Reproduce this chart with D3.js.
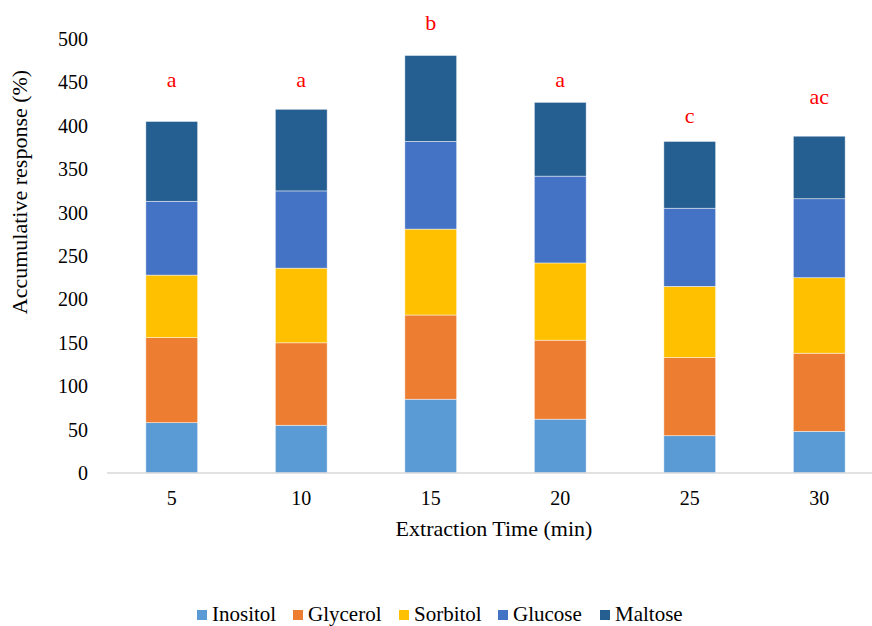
<!DOCTYPE html>
<html>
<head>
<meta charset="utf-8">
<script src="https://cdn.jsdelivr.net/npm/d3@7"></script>
<style>
  body { margin: 0; background: #fff; overflow: hidden; }
  svg { display: block; }
</style>
</head>
<body>
<div id="chart"></div>
<script>
// categories (extraction time, min)
var times = ["5", "10", "15", "20", "25", "30"];
var seriesNames = ["Inositol", "Glycerol", "Sorbitol", "Glucose", "Maltose"];
var seriesColors = ["#5B9BD5", "#ED7D31", "#FFC000", "#4472C4", "#255E91"];

// series values (%)
var inositol = [58, 55, 85, 62, 43, 48];
var glycerol = [98, 95, 97, 91, 90, 90];
var sorbitol = [72, 86, 99, 89, 82, 87];
var glucose  = [85, 89, 101, 100, 90, 91];
var maltose  = [92, 94, 99, 85, 77, 72];

// significance letters and their height (in axis units)
var letters = ["a", "a", "b", "a", "c", "ac"];
var letterPos = [445, 445, 510, 445, 403, 425];

var yTicks = [0, 50, 100, 150, 200, 250, 300, 350, 400, 450, 500];

var width = 872, height = 626;
var margin = { left: 107, right: -12, top: 39, bottom: 153 };
var serif = "Liberation Serif";

var svg = d3.select("#chart").append("svg")
  .attr("width", width)
  .attr("height", height)
  .attr("font-family", serif);

var x = d3.scaleBand()
  .domain(times)
  .range([margin.left, width - margin.right])
  .paddingInner(0.6)
  .paddingOuter(0.3);

var y = d3.scaleLinear()
  .domain([0, 500])
  .range([height - margin.bottom, margin.top]);

// build table for stacking
var allSeries = [inositol, glycerol, sorbitol, glucose, maltose];
var table = times.map(function (t, i) {
  var row = { time: t };
  seriesNames.forEach(function (s, j) { row[s] = allSeries[j][i]; });
  return row;
});
var stacked = d3.stack().keys(seriesNames)(table);

// bars
svg.selectAll(".layer")
  .data(stacked)
  .enter().append("g")
  .attr("class", "layer")
  .attr("fill", function (d, i) { return seriesColors[i]; })
  .selectAll("rect")
  .data(function (d) { return d; })
  .enter().append("rect")
  .attr("x", function (d) { return x(d.data.time); })
  .attr("width", x.bandwidth())
  .attr("y", function (d) { return y(d[1]); })
  .attr("height", function (d) { return y(d[0]) - y(d[1]); })
  .attr("stroke", "#ffffff")
  .attr("stroke-opacity", 0.6)
  .attr("stroke-width", 0.75);

// x axis line
svg.append("line")
  .attr("x1", margin.left).attr("x2", width)
  .attr("y1", y(0)).attr("y2", y(0))
  .attr("stroke", "#d9d9d9")
  .attr("stroke-width", 1.5);

// y tick labels
svg.selectAll(".ytick")
  .data(yTicks)
  .enter().append("text")
  .attr("class", "ytick")
  .attr("x", 88)
  .attr("y", function (d) { return y(d); })
  .attr("dy", "0.35em")
  .attr("text-anchor", "end")
  .attr("font-size", 20)
  .attr("fill", "#000")
  .text(function (d) { return d; });

// x tick labels
svg.selectAll(".xtick")
  .data(times)
  .enter().append("text")
  .attr("class", "xtick")
  .attr("x", function (d) { return x(d) + x.bandwidth() / 2; })
  .attr("y", y(0) + 32)
  .attr("text-anchor", "middle")
  .attr("font-size", 20)
  .attr("fill", "#000")
  .text(function (d) { return d; });

// significance letters
svg.selectAll(".letter")
  .data(letters)
  .enter().append("text")
  .attr("class", "letter")
  .attr("x", function (d, i) { return x(times[i]) + x.bandwidth() / 2; })
  .attr("y", function (d, i) { return y(letterPos[i]); })
  .attr("text-anchor", "middle")
  .attr("font-size", 22)
  .attr("fill", "#ff0000")
  .text(function (d) { return d; });

// axis titles
svg.append("text")
  .attr("x", 494)
  .attr("y", 536)
  .attr("text-anchor", "middle")
  .attr("font-size", 22)
  .attr("fill", "#000")
  .text("Extraction Time (min)");

svg.append("text")
  .attr("transform", "translate(27,192) rotate(-90)")
  .attr("text-anchor", "middle")
  .attr("font-size", 22)
  .attr("fill", "#000")
  .text("Accumulative response (%)");

// legend
var legendTextX = [212, 308, 414, 513, 615];
var legend = svg.selectAll(".legend")
  .data(seriesNames)
  .enter().append("g")
  .attr("class", "legend")
  .attr("transform", function (d, i) { return "translate(" + legendTextX[i] + ",615)"; });

legend.append("rect")
  .attr("x", -15).attr("y", -5)
  .attr("width", 10).attr("height", 10)
  .attr("fill", function (d, i) { return seriesColors[i]; });

legend.append("text")
  .attr("x", 0)
  .attr("y", 6)
  .attr("font-size", 21)
  .attr("fill", "#000")
  .text(function (d) { return d; });
</script>
</body>
</html>
